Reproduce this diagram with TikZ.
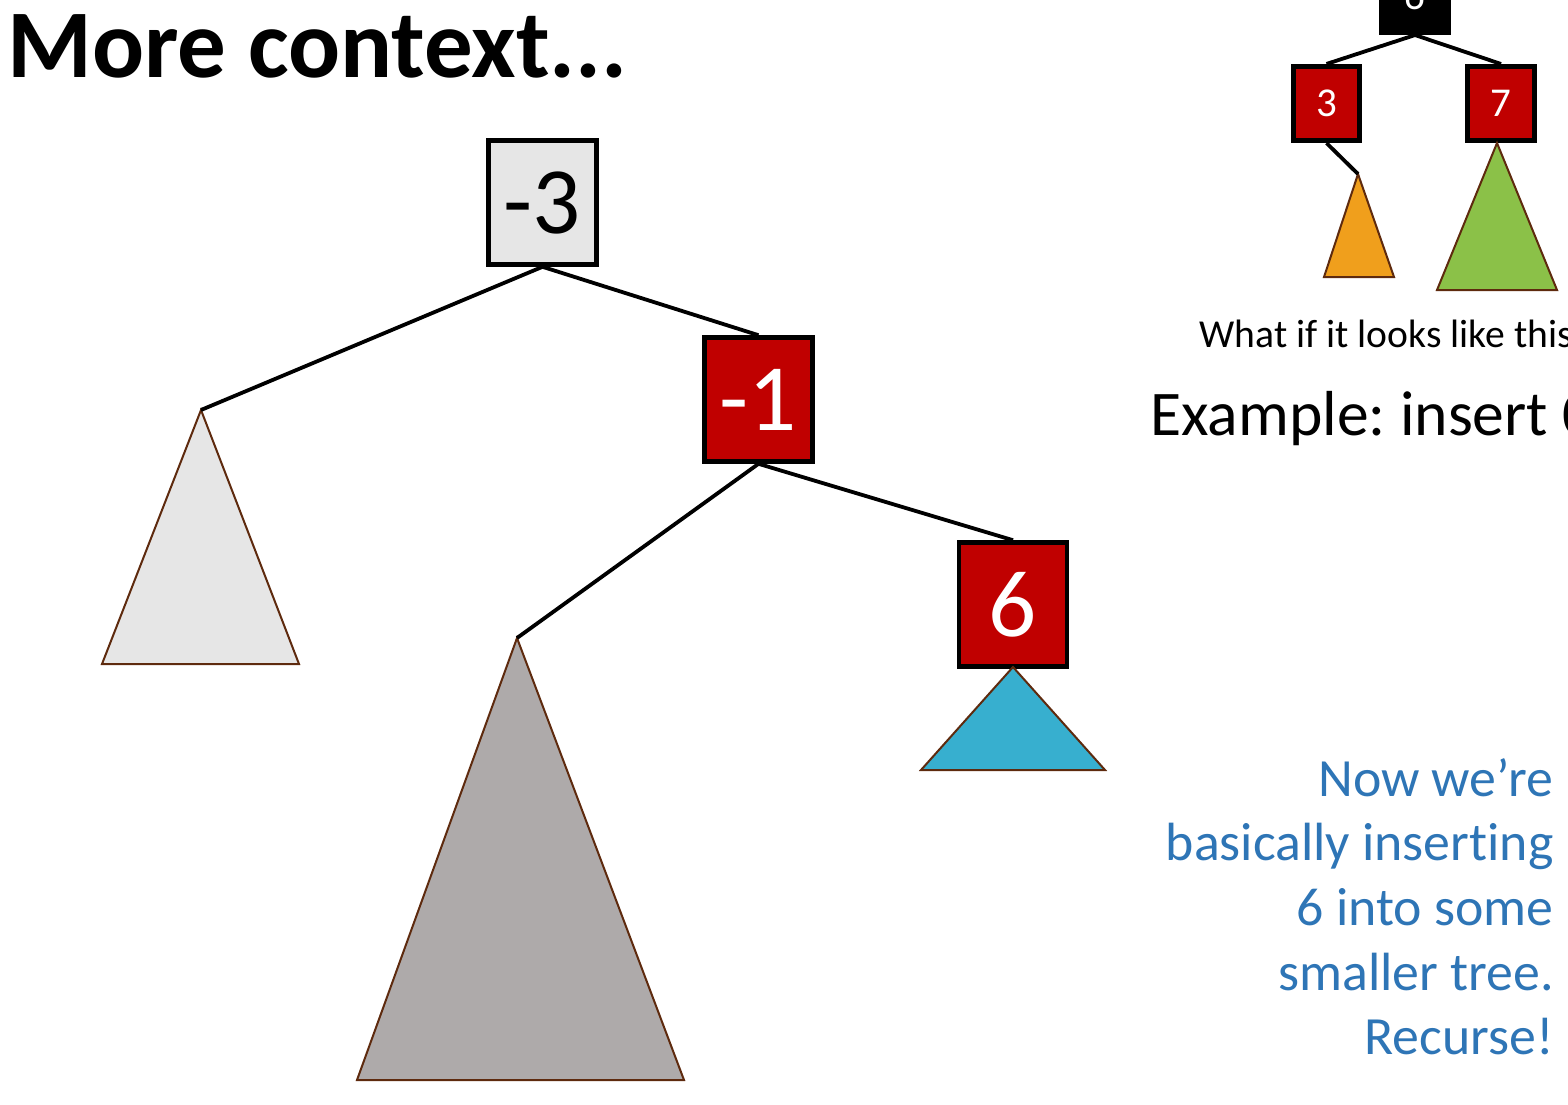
\documentclass[tikz,border=0pt]{standalone}
\usepackage{fontspec}
\setmainfont{Carlito}[Ligatures={NoCommon}]
\frenchspacing
\definecolor{rbred}{RGB}{192,0,0}
\definecolor{lgray}{RGB}{230,230,230}
\definecolor{mgray}{RGB}{174,170,170}
\definecolor{tblue}{RGB}{55,175,207}
\definecolor{torange}{RGB}{240,159,28}
\definecolor{tgreen}{RGB}{139,193,72}
\definecolor{tbrown}{RGB}{94,42,14}
\definecolor{txtblue}{RGB}{46,117,182}
\tikzset{
  bigbox/.style={draw=black, line width=2.3pt, minimum width=54pt, minimum height=62pt, inner sep=0pt, font=\fontsize{47.5}{57}\selectfont},
  smallbox/.style={draw=black, line width=2.35pt, minimum width=33.2pt, minimum height=37.2pt, inner sep=0pt, font=\fontsize{20.5}{25}\selectfont},
  redfill/.style={fill=rbred, text=white},
  blackfill/.style={fill=black, text=white},
  grayfill/.style={fill=lgray, text=black},
  edge/.style={draw=black, line width=1.9pt},
  sedge/.style={draw=black, line width=1.9pt},
  subtree/.style={draw=tbrown, line width=1pt, line join=miter},
  plain/.style={inner sep=0pt, text=black}
}
\begin{document}
\begin{tikzpicture}[x=0.5pt, y=-0.5pt]
\useasboundingbox (0,0) rectangle (1568,1104);

% title
\node[plain, anchor=base west, font=\fontsize{48.5}{58}\selectfont\bfseries] (title) at (7,77) {More context...};

% main tree nodes
\node[bigbox, grayfill] (m3) at (542.5,202.5) {-3};
\node[bigbox, redfill] (m1) at (758.5,399.5) {-1};
\node[bigbox, redfill] (n6) at (1013,604.5) {6};

% subtree apexes
\coordinate (tA) at (201,410);
\coordinate (tB) at (517,638);
\coordinate (tC) at (1013,667);

% subtrees
\path[subtree, fill=lgray] (tA) -- (102,664) -- (299,664) -- cycle;
\path[subtree, fill=mgray] (tB) -- (357,1080) -- (684,1080) -- cycle;
\path[subtree, fill=tblue] (tC) -- (921,770) -- (1105,770) -- cycle;

% connectors
\draw[edge] (m3.south) -- (tA);
\draw[edge] (m3.south) -- (m1.north);
\draw[edge] (m1.south) -- (tB);
\draw[edge] (m1.south) -- (n6.north);

% small tree (top right)
\node[smallbox, blackfill] (r6) at (1415,-4.5) {6};
\node[smallbox, redfill] (s3) at (1326.5,103.5) {3};
\node[smallbox, redfill] (s7) at (1501,103.5) {7};
\coordinate (tO) at (1358,174);
\coordinate (tG) at (1497,143);
\path[subtree, fill=torange] (tO) -- (1324,277) -- (1394,277) -- cycle;
\path[subtree, fill=tgreen] (tG) -- (1437,290) -- (1557,290) -- cycle;
\draw[sedge] (r6.south) -- (s3.north);
\draw[sedge] (r6.south) -- (s7.north);
\draw[sedge] (s3.south) -- (tO);

% texts
\node[plain, anchor=base west, font=\fontsize{19.8}{24}\selectfont] (q) at (1199,347) {What if it looks like this?};
\node[plain, anchor=base west, font=\fontsize{31.8}{38}\selectfont] (ex) at (1150,435) {Example: insert 0};
\node[plain, anchor=north east, align=right, text=txtblue, font=\fontsize{26.9}{32.3}\selectfont] (note) at (1554,758) {Now we’re\\basically inserting\\6 into some\\smaller tree.\\Recurse!};
\end{tikzpicture}
\end{document}
